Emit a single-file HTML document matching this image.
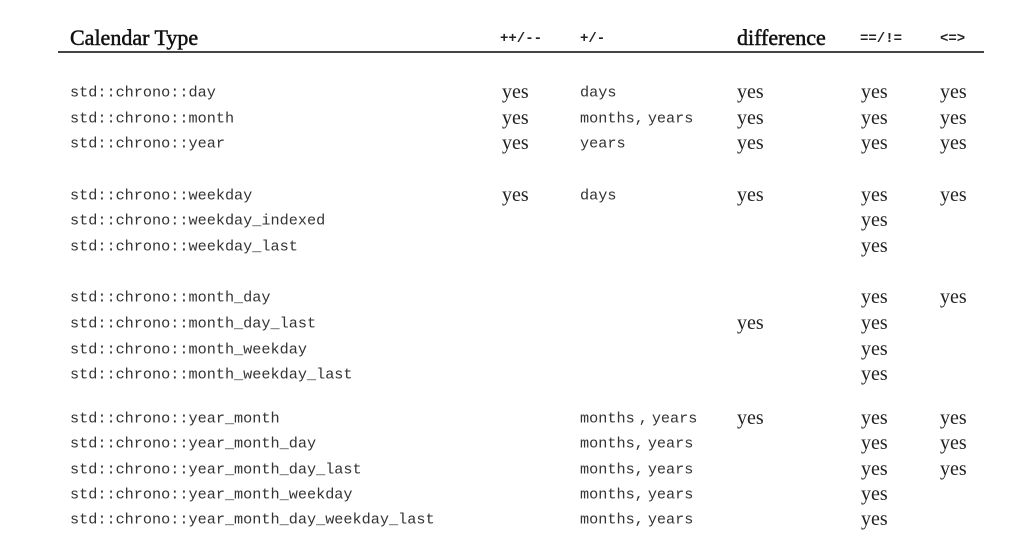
<!DOCTYPE html>
<html><head><meta charset="utf-8"><style>
body{margin:0;width:1028px;height:538px;background:#fff;position:relative;overflow:hidden;color:#222}
.t{position:absolute;white-space:pre;line-height:1;transform:translateY(-50%)}
.m{font-family:"Liberation Mono",monospace;font-size:15.2px;color:#333}
.s{font-family:"Liberation Serif",serif;font-size:20px;color:#222}
.h{font-family:"Liberation Serif",serif;font-size:22px;color:#111;-webkit-text-stroke:0.5px #111}
.hm{font-family:"Liberation Mono",monospace;font-size:14px;font-weight:bold;color:#222}
.line{position:absolute;left:58px;top:51px;width:926px;height:2px;background:#444}
.n{display:inline-block;width:4px}
</style></head><body>
<div class="t h" style="left:70px;top:38px">Calendar Type</div>
<div class="t hm" style="left:500px;top:39px">++/--</div>
<div class="t hm" style="left:580px;top:39px">+/-</div>
<div class="t h" style="left:737px;top:38px">difference</div>
<div class="t hm" style="left:860px;top:39px">==/!=</div>
<div class="t hm" style="left:940px;top:39px">&lt;=&gt;</div>
<div class="line"></div>

<div class="t m" style="left:70px;top:93px">std::chrono::day</div>
<div class="t m" style="left:70px;top:119px">std::chrono::month</div>
<div class="t m" style="left:70px;top:144px">std::chrono::year</div>
<div class="t m" style="left:70px;top:196px">std::chrono::weekday</div>
<div class="t m" style="left:70px;top:221px">std::chrono::weekday_indexed</div>
<div class="t m" style="left:70px;top:247px">std::chrono::weekday_last</div>
<div class="t m" style="left:70px;top:298px">std::chrono::month_day</div>
<div class="t m" style="left:70px;top:324px">std::chrono::month_day_last</div>
<div class="t m" style="left:70px;top:350px">std::chrono::month_weekday</div>
<div class="t m" style="left:70px;top:375px">std::chrono::month_weekday_last</div>
<div class="t m" style="left:70px;top:419px">std::chrono::year_month</div>
<div class="t m" style="left:70px;top:444px">std::chrono::year_month_day</div>
<div class="t m" style="left:70px;top:470px">std::chrono::year_month_day_last</div>
<div class="t m" style="left:70px;top:495px">std::chrono::year_month_weekday</div>
<div class="t m" style="left:70px;top:520px">std::chrono::year_month_day_weekday_last</div>

<div class="t s" style="left:502px;top:92px">yes</div>
<div class="t s" style="left:502px;top:118px">yes</div>
<div class="t s" style="left:502px;top:143px">yes</div>
<div class="t s" style="left:502px;top:195px">yes</div>

<div class="t m" style="left:580px;top:93px">days</div>
<div class="t m" style="left:580px;top:119px">months,<span class="n"></span>years</div>
<div class="t m" style="left:580px;top:144px">years</div>
<div class="t m" style="left:580px;top:196px">days</div>
<div class="t m" style="left:580px;top:419px">months<span class="n"></span>,<span class="n"></span>years</div>
<div class="t m" style="left:580px;top:444px">months,<span class="n"></span>years</div>
<div class="t m" style="left:580px;top:470px">months,<span class="n"></span>years</div>
<div class="t m" style="left:580px;top:495px">months,<span class="n"></span>years</div>
<div class="t m" style="left:580px;top:520px">months,<span class="n"></span>years</div>

<div class="t s" style="left:737px;top:92px">yes</div>
<div class="t s" style="left:737px;top:118px">yes</div>
<div class="t s" style="left:737px;top:143px">yes</div>
<div class="t s" style="left:737px;top:195px">yes</div>
<div class="t s" style="left:737px;top:323px">yes</div>
<div class="t s" style="left:737px;top:418px">yes</div>

<div class="t s" style="left:861px;top:92px">yes</div>
<div class="t s" style="left:861px;top:118px">yes</div>
<div class="t s" style="left:861px;top:143px">yes</div>
<div class="t s" style="left:861px;top:195px">yes</div>
<div class="t s" style="left:861px;top:220px">yes</div>
<div class="t s" style="left:861px;top:246px">yes</div>
<div class="t s" style="left:861px;top:297px">yes</div>
<div class="t s" style="left:861px;top:323px">yes</div>
<div class="t s" style="left:861px;top:349px">yes</div>
<div class="t s" style="left:861px;top:374px">yes</div>
<div class="t s" style="left:861px;top:418px">yes</div>
<div class="t s" style="left:861px;top:443px">yes</div>
<div class="t s" style="left:861px;top:469px">yes</div>
<div class="t s" style="left:861px;top:494px">yes</div>
<div class="t s" style="left:861px;top:519px">yes</div>

<div class="t s" style="left:940px;top:92px">yes</div>
<div class="t s" style="left:940px;top:118px">yes</div>
<div class="t s" style="left:940px;top:143px">yes</div>
<div class="t s" style="left:940px;top:195px">yes</div>
<div class="t s" style="left:940px;top:297px">yes</div>
<div class="t s" style="left:940px;top:418px">yes</div>
<div class="t s" style="left:940px;top:443px">yes</div>
<div class="t s" style="left:940px;top:469px">yes</div>
</body></html>
